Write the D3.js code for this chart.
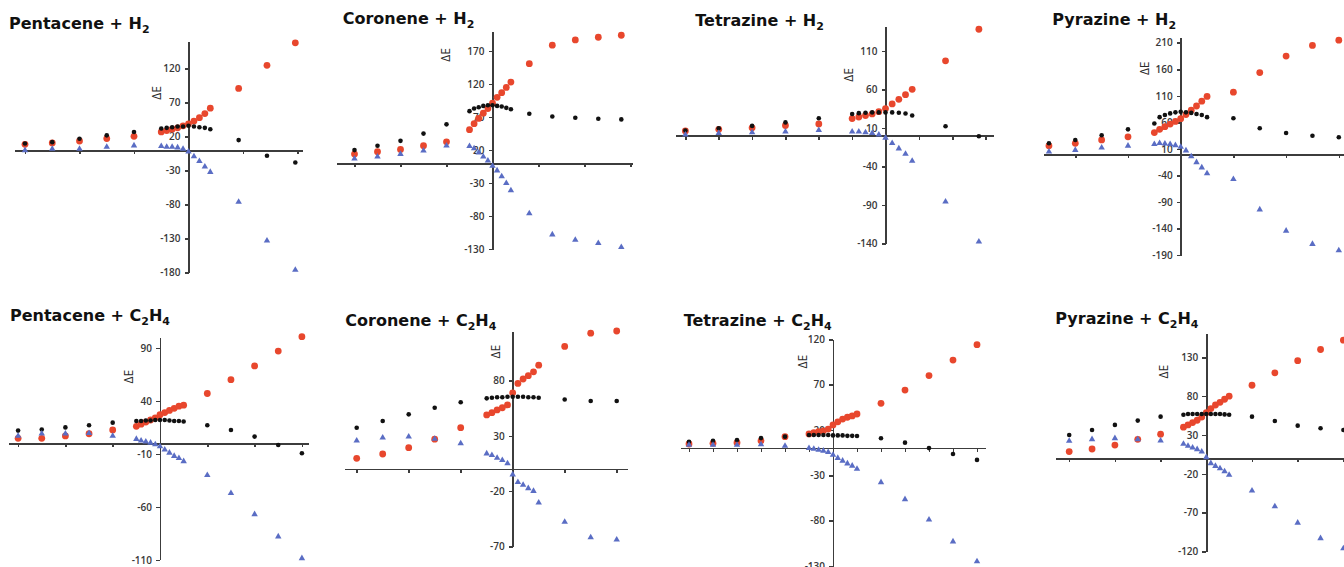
<!DOCTYPE html>
<html>
<head>
<meta charset="utf-8">
<script src="https://cdn.jsdelivr.net/npm/d3@7"></script>
<style>
  body { margin: 0; background: #fff; }
  .axis path, .axis line { stroke: #3c3c3c; stroke-width: 1.6px; shape-rendering: crispEdges; }
  .axis text { font-family: "Open Sans", Lato, sans-serif; font-weight: 600; font-size: 10px; fill: #383838; }
  .title { font-family: "DejaVu Sans", sans-serif; font-weight: bold; font-size: 16px; fill: #111; }
  .ylab { font-family: "Open Sans", Lato, sans-serif; font-size: 12px; fill: #2a2a2a; }
</style>
</head>
<body>
<div id="app"></div>
<script>
var titles = ["Pentacene + H_2", "Coronene + H_2", "Tetrazine + H_2", "Pyrazine + H_2",
              "Pentacene + C_2H_4", "Coronene + C_2H_4", "Tetrazine + C_2H_4", "Pyrazine + C_2H_4"];

// Pentacene + H2
var pentH2X     = [-3, -2.5, -2, -1.5, -1, -0.5, -0.4, -0.3, -0.2, -0.1, 0, 0.1, 0.2, 0.3, 0.4, 0.92, 1.44, 1.96];
var pentH2Red   = [8.8, 10.8, 13.7, 17.2, 20.6, 27, 29, 31, 33, 36, 39, 43, 48, 54, 62, 91, 125, 158];
var pentH2Black = [10, 12, 17, 22, 27, 32, 33, 34, 35, 35, 36, 35, 34, 33, 31, 15, -8, -18];
var pentH2Blue  = [0, 2, 2, 5, 7, 6, 5, 5, 4, 2, -2, -9, -16, -24, -32, -76, -133, -176];
var pentH2YTicks = [-180, -130, -80, -30, 20, 70, 120];
var pentH2XTicks = [-3, -2, -1, 1, 2];

// Coronene + H2
var corH2X     = [-3, -2.5, -2, -1.5, -1, -0.5, -0.4, -0.3, -0.2, -0.1, 0, 0.1, 0.2, 0.3, 0.4, 0.8, 1.3, 1.8, 2.3, 2.8];
var corH2Red   = [14, 17.5, 21, 26.6, 32.6, 51, 60, 68, 76, 83, 91, 100, 107, 115, 123, 151, 179, 187, 191, 194];
var corH2Black = [20, 26.6, 34, 45, 59, 79, 83, 85, 87, 88, 88, 87, 86, 84, 82, 75, 71, 69, 67.5, 66.5];
var corH2Blue  = [7, 10, 14, 19, 26.6, 26, 22.5, 16, 10, 4, -4, -11, -20, -30, -41, -76, -108, -116, -121, -127];
var corH2YTicks = [-130, -80, -30, 20, 70, 120, 170];
var corH2XTicks = [-3, -2, -1, 1, 2, 3];

// Tetrazine + H2
var tetH2X     = [-3, -2.5, -2, -1.5, -1, -0.5, -0.4, -0.3, -0.2, -0.1, 0, 0.1, 0.2, 0.3, 0.4, 0.9, 1.4];
var tetH2Red   = [6, 8, 10, 13, 15, 22, 24, 26, 28, 31, 35, 41, 47, 53, 60, 97, 138];
var tetH2Black = [6.5, 9.5, 12.5, 17, 22.5, 28, 29, 29.5, 30, 30, 30, 30, 29.5, 28.5, 26, 12, -1];
var tetH2Blue  = [1, 3, 4, 5, 7, 5, 5, 4, 3, 1, -3, -10, -17, -24, -33, -86, -138];
var tetH2YTicks = [-140, -90, -40, 10, 60, 110];
var tetH2XTicks = [-3, -2.5, -2, -1.5, -1, -0.5, 0.5, 1, 1.5];

// Pyrazine + H2
var pyrH2X     = [-2.5, -2, -1.5, -1, -0.5, -0.4, -0.3, -0.2, -0.1, 0, 0.1, 0.2, 0.3, 0.4, 0.5, 1, 1.5, 2, 2.5, 3];
var pyrH2Red   = [16, 20.7, 27, 33, 41, 47, 52, 57, 62, 67, 75, 83, 91, 100, 109, 117, 154, 185, 205, 215];
var pyrH2Black = [20.7, 27, 36, 47, 58, 70, 74, 77, 79, 80, 79, 78, 76, 74, 70, 68, 49, 40, 35, 32];
var pyrH2Blue  = [5, 8, 12.5, 16, 19, 21, 20, 19, 17, 14, 7, -4, -15, -25, -36, -47, -104, -144, -169, -181];
var pyrH2YTicks = [-190, -140, -90, -40, 10, 60, 110, 160, 210];
var pyrH2XTicks = [-2, -1, 1, 2, 3];

// Pentacene + C2H4
var pentC2X     = [-3, -2.5, -2, -1.5, -1, -0.5, -0.4, -0.3, -0.2, -0.1, 0, 0.1, 0.2, 0.3, 0.4, 0.5, 1, 1.5, 2, 2.5, 3];
var pentC2Red   = [4.7, 4.7, 7, 9, 12.6, 16, 18, 20, 22, 24, 27, 29, 31, 33, 35, 36, 47, 60, 73, 87, 100.6];
var pentC2Black = [12, 13, 15, 17, 19.5, 21, 21, 21.5, 21.5, 22, 22, 22, 21.5, 21, 21, 20.5, 17, 12.6, 6.3, -1.6, -9.4];
var pentC2Blue  = [7, 9, 9, 9.5, 7, 4, 2.5, 1.5, 0.5, -1, -3, -6, -9, -12, -14, -17, -30, -47, -67, -88, -108.5];
var pentC2YTicks = [-110, -60, -10, 40, 90];
var pentC2XTicks = [-3, -2, -1, 1, 2, 3];

// Coronene + C2H4
var corC2X     = [-3, -2.5, -2, -1.5, -1, -0.5, -0.4, -0.3, -0.2, -0.1, 0, 0.1, 0.2, 0.3, 0.4, 0.5, 1, 1.5, 2];
var corC2Red   = [9.7, 13.6, 19.3, 27, 37.4, 49, 51, 53.5, 55.5, 58, 69, 77.5, 81.5, 84.5, 88, 94, 111, 123, 125];
var corC2Black = [37.4, 43.5, 49.5, 55.5, 60.4, 64, 64.5, 65, 65, 65.5, 65.5, 65.5, 65.5, 65, 65, 64.5, 63, 61.6, 61.6];
var corC2Blue  = [25.7, 28.4, 29.3, 27.2, 23.2, 14, 12.5, 10, 8, 5, -5, -12, -14.5, -17.5, -20, -30.5, -48, -62, -64];
var corC2YTicks = [-70, -20, 30, 80];
var corC2XTicks = [-3, -2, -1, 1, 2];

// Tetrazine + C2H4
var tetC2X     = [-3, -2.5, -2, -1.5, -1, -0.5, -0.4, -0.3, -0.2, -0.1, 0, 0.1, 0.2, 0.3, 0.4, 0.5, 1, 1.5, 2, 2.5, 3];
var tetC2Red   = [4.5, 5.3, 6, 8, 12.6, 15.6, 17, 18, 19, 21, 25.5, 29, 32, 34, 35.5, 37.6, 49.4, 64, 80, 97, 114];
var tetC2Black = [7, 8, 9, 11, 12.6, 14.5, 14.5, 14.5, 14.5, 14.5, 14, 14, 14, 13.5, 13.5, 13.4, 10.8, 6, 0, -6.5, -13];
var tetC2Blue  = [3.5, 3.5, 3.5, 4, 2.4, 0, -1, -2, -3, -4.5, -7.5, -11, -14, -17, -19.5, -23, -37.7, -56.5, -79, -103, -125];
var tetC2YTicks = [-130, -80, -30, 20, 70, 120];
var tetC2XTicks = [-3, -2.5, -2, -1.5, -1, -0.5, 0.5, 1, 1.5, 2, 2.5, 3];

// Pyrazine + C2H4
var pyrC2X     = [-3, -2.5, -2, -1.5, -1, -0.5, -0.4, -0.3, -0.2, -0.1, 0, 0.1, 0.2, 0.3, 0.4, 0.5, 1, 1.5, 2, 2.5, 3];
var pyrC2Red   = [8.6, 12, 17, 24.4, 31, 40, 43, 46, 49, 53, 58.7, 64, 68.6, 72, 76, 80, 94, 110, 125.6, 140, 152];
var pyrC2Black = [30, 36.4, 43, 48.5, 53.6, 56, 57, 57, 57, 57, 57, 57, 57, 57, 56.5, 56, 53.6, 48, 42, 38.6, 36.4];
var pyrC2Blue  = [22.3, 24.4, 25.7, 24.4, 22.7, 18.4, 16, 13.7, 11.6, 8.6, 1.3, -6.4, -10, -13, -17, -21.4, -41.6, -62, -83, -103, -116];
var pyrC2YTicks = [-120, -70, -20, 30, 80, 130];
var pyrC2XTicks = [-3, -2, -1, 1, 2, 3];

// where each little plot sits on the page (origin, px per unit, axis extent, title & label spots)
var layout = [
  {ox: 188.5,  oy: 150.3, kx: 54.5, ky: 0.68,  xMin: -3.2,  xMax: 2.1,  yMin: -180, yMax: 160, tx: 9,      ty: 29,    lx: 156.7,  ly: 93},
  {ox: 492.5,  oy: 163.3, kx: 46,   ky: 0.66,  xMin: -3.4,  xMax: 3.05, yMin: -130, yMax: 200, tx: 342.7,  ty: 24,    lx: 446,    ly: 55},
  {ox: 885.5,  oy: 135.5, kx: 66.7, ky: 0.77,  xMin: -3.15, xMax: 1.62, yMin: -140, yMax: 142, tx: 695.3,  ty: 25.5,  lx: 848.7,  ly: 75},
  {ox: 1180.7, oy: 154.3, kx: 52.7, ky: 0.531, xMin: -2.6,  xMax: 3.2,  yMin: -190, yMax: 220, tx: 1052.3, ty: 25,    lx: 1144.7, ly: 68.3},
  {ox: 160,    oy: 443.3, kx: 47.3, ky: 1.06,  xMin: -3.2,  xMax: 3.13, yMin: -110, yMax: 100, tx: 10,     ty: 320.5, lx: 128.3,  ly: 376.7},
  {ox: 512.7,  oy: 469,   kx: 52,   ky: 1.104, xMin: -3.24, xMax: 2.21, yMin: -70,  yMax: 125, tx: 345.3,  ty: 326,   lx: 495.3,  ly: 351.7},
  {ox: 833,    oy: 448.1, kx: 48,   ky: 0.907, xMin: -3.18, xMax: 3.17, yMin: -130, yMax: 120, tx: 683.7,  ty: 325.7, lx: 803,    ly: 361.7},
  {ox: 1206.3, oy: 458.3, kx: 45.7, ky: 0.777, xMin: -3.3,  xMax: 3.3,  yMin: -120, yMax: 160, tx: 1055.3, ty: 324.3, lx: 1164,   ly: 371.7}
];

var panels = [
  {x: pentH2X, red: pentH2Red, black: pentH2Black, blue: pentH2Blue, yTicks: pentH2YTicks, xTicks: pentH2XTicks},
  {x: corH2X,  red: corH2Red,  black: corH2Black,  blue: corH2Blue,  yTicks: corH2YTicks,  xTicks: corH2XTicks},
  {x: tetH2X,  red: tetH2Red,  black: tetH2Black,  blue: tetH2Blue,  yTicks: tetH2YTicks,  xTicks: tetH2XTicks},
  {x: pyrH2X,  red: pyrH2Red,  black: pyrH2Black,  blue: pyrH2Blue,  yTicks: pyrH2YTicks,  xTicks: pyrH2XTicks},
  {x: pentC2X, red: pentC2Red, black: pentC2Black, blue: pentC2Blue, yTicks: pentC2YTicks, xTicks: pentC2XTicks},
  {x: corC2X,  red: corC2Red,  black: corC2Black,  blue: corC2Blue,  yTicks: corC2YTicks,  xTicks: corC2XTicks},
  {x: tetC2X,  red: tetC2Red,  black: tetC2Black,  blue: tetC2Blue,  yTicks: tetC2YTicks,  xTicks: tetC2XTicks},
  {x: pyrC2X,  red: pyrC2Red,  black: pyrC2Black,  blue: pyrC2Blue,  yTicks: pyrC2YTicks,  xTicks: pyrC2XTicks}
];

var width = 1344,
    height = 567;

var svg = d3.select("#app").append("svg")
    .attr("width", width)
    .attr("height", height);

var triangle = d3.symbol().type(d3.symbolTriangle).size(18);

panels.forEach(function(p, i) {
    var L = layout[i];
    var g = svg.append("g");

    var x = d3.scaleLinear()
        .domain([L.xMin, L.xMax])
        .range([L.ox + L.xMin * L.kx, L.ox + L.xMax * L.kx]);
    var y = d3.scaleLinear()
        .domain([L.yMin, L.yMax])
        .range([L.oy - L.yMin * L.ky, L.oy - L.yMax * L.ky]);

    // x axis runs through zero, no labels
    g.append("g")
        .attr("class", "axis")
        .attr("transform", "translate(0," + y(0) + ")")
        .call(d3.axisBottom(x).tickValues(p.xTicks).tickSize(4).tickSizeOuter(0).tickFormat(""));

    // plain hyphen for negatives, like the original
    g.append("g")
        .attr("class", "axis")
        .attr("transform", "translate(" + x(0) + ",0)")
        .call(d3.axisLeft(y).tickValues(p.yTicks).tickSize(4).tickSizeOuter(0).tickPadding(4)
            .tickFormat(function(d) { return String(d); }));

    g.append("text")
        .attr("class", "ylab")
        .attr("transform", "translate(" + L.lx + "," + L.ly + ") rotate(-90)")
        .attr("text-anchor", "middle")
        .attr("dy", "0.35em")
        .text("ΔE");

    // title, "_n" means subscript
    var t = g.append("text")
        .attr("class", "title")
        .attr("x", L.tx)
        .attr("y", L.ty);
    var down = false;
    titles[i].split(/(_\d)/).forEach(function(part) {
        if (!part) return;
        if (part[0] === "_") {
            t.append("tspan").attr("dy", 4).attr("font-size", "11px").text(part.slice(1));
            down = true;
        } else {
            t.append("tspan").attr("dy", down ? -4 : 0).text(part);
            down = false;
        }
    });

    var pts = p.x.map(function(d, j) {
        return {x: d, red: p.red[j], black: p.black[j], blue: p.blue[j]};
    });

    g.selectAll(".red").data(pts).enter().append("circle")
        .attr("cx", function(d) { return x(d.x); })
        .attr("cy", function(d) { return y(d.red); })
        .attr("r", 3.4)
        .style("fill", "#e8472d");

    g.selectAll(".blk").data(pts).enter().append("circle")
        .attr("cx", function(d) { return x(d.x); })
        .attr("cy", function(d) { return y(d.black); })
        .attr("r", 2.3)
        .style("fill", "#111");

    g.selectAll(".blu").data(pts).enter().append("path")
        .attr("d", triangle)
        .attr("transform", function(d) { return "translate(" + x(d.x) + "," + y(d.blue) + ")"; })
        .style("fill", "#5a6dc4");
});
</script>
</body>
</html>
